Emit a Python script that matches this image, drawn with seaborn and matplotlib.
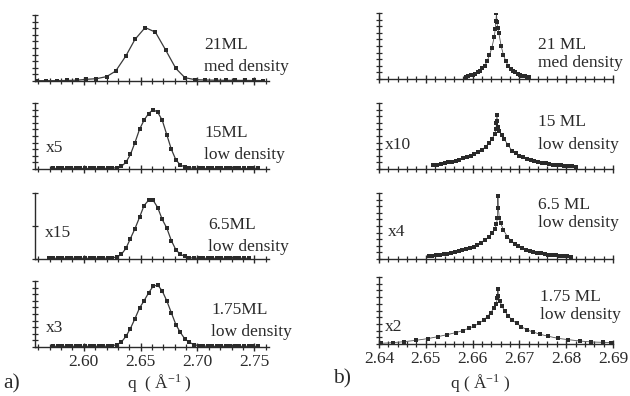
import numpy as np
import pandas as pd
import matplotlib
matplotlib.use("Agg")
import matplotlib.pyplot as plt
import seaborn as sns
from matplotlib.ticker import MultipleLocator, NullFormatter, FixedLocator

# ---------------- data (a): square markers ----------------
q_21 = [2.558, 2.567, 2.576, 2.585, 2.594, 2.602, 2.611, 2.620, 2.628, 2.637, 2.645, 2.654,
        2.663, 2.672, 2.681, 2.689, 2.698, 2.707, 2.716, 2.725, 2.733, 2.742, 2.750, 2.758]
I_21 = [0.005, 0.005, 0.005, 0.008, 0.012, 0.025, 0.035, 0.066, 0.15, 0.38, 0.63, 0.81,
        0.74, 0.47, 0.19, 0.05, 0.02, 0.015, 0.012, 0.01, 0.01, 0.008, 0.008, 0.005]

q_grid = [2.569, 2.573, 2.577, 2.581, 2.585, 2.589, 2.593, 2.597, 2.601, 2.605, 2.609, 2.613,
          2.617, 2.621, 2.625, 2.629, 2.633, 2.637, 2.641, 2.645, 2.649, 2.653, 2.657, 2.661,
          2.665, 2.669, 2.673, 2.677, 2.681, 2.685, 2.689, 2.693, 2.697, 2.701, 2.705, 2.709,
          2.713, 2.717, 2.721, 2.725, 2.729, 2.733, 2.737, 2.741, 2.745, 2.749, 2.753, 2.757]
N = None
I_15 = [N, 0.008, 0.008, 0.008, 0.008, 0.008, 0.008, 0.008, 0.008, 0.008, 0.008, 0.008,
        0.008, 0.01, 0.012, 0.02, 0.04, 0.10, 0.22, 0.40, 0.60, 0.74, 0.84, 0.90,
        0.86, 0.74, 0.52, 0.30, 0.14, 0.06, 0.03, 0.015, 0.01, 0.008, 0.008, 0.008,
        0.008, 0.008, 0.008, 0.008, 0.008, 0.008, 0.008, 0.008, 0.008, 0.008, 0.008, N]
I_65 = [0.01, 0.01, 0.01, 0.01, 0.01, 0.01, 0.01, 0.01, 0.01, 0.01, 0.01, 0.01,
        0.01, 0.012, 0.018, 0.03, 0.07, 0.16, 0.31, 0.46, 0.63, 0.81, 0.89, 0.89,
        0.78, 0.60, 0.47, 0.28, 0.14, 0.07, 0.04, 0.02, 0.012, 0.01, 0.01, 0.01,
        0.01, 0.01, 0.01, 0.01, 0.01, 0.01, 0.01, 0.01, 0.01, N, N, N]
I_175 = [N, 0.01, 0.01, 0.01, 0.01, 0.01, 0.01, 0.01, 0.01, 0.01, 0.01, 0.01,
         0.01, 0.012, 0.02, 0.035, 0.075, 0.16, 0.28, 0.43, 0.59, 0.70, 0.82, 0.92,
         0.94, 0.85, 0.70, 0.52, 0.34, 0.22, 0.12, 0.07, 0.035, 0.02, 0.014, 0.01,
         0.01, 0.01, 0.01, 0.01, 0.01, 0.01, 0.01, 0.01, 0.01, 0.01, 0.01, N]

# ---------------- data (b): dotted cusps ----------------
qb_21 = [2.6586, 2.6591, 2.6596, 2.6601, 2.6606, 2.6611, 2.6616, 2.6621, 2.6626, 2.6631, 2.6636,
         2.6641, 2.6646, 2.66485, 2.6650, 2.6651, 2.6652, 2.66535, 2.6656, 2.6661, 2.6666, 2.6671,
         2.6676, 2.6681, 2.6686, 2.6691, 2.6696, 2.6701, 2.6706, 2.6711, 2.6716, 2.6721]
Ib_21 = [0.037, 0.045, 0.055, 0.065, 0.08, 0.10, 0.12, 0.16, 0.20, 0.27, 0.36,
         0.47, 0.63, 0.76, 0.88, 1.00, 0.86, 0.78, 0.70, 0.50, 0.36, 0.27,
         0.20, 0.15, 0.12, 0.10, 0.08, 0.065, 0.05, 0.04, 0.033, 0.025]

qb_15 = [2.6516, 2.6524, 2.6532, 2.6540, 2.6548, 2.6556, 2.6564, 2.6572, 2.6580, 2.6588, 2.6596,
         2.6604, 2.6612, 2.6620, 2.6628, 2.6636, 2.6642, 2.6647, 2.6650, 2.6651, 2.6652, 2.6653,
         2.6654, 2.6657, 2.6662, 2.6668, 2.6676, 2.6684, 2.6692, 2.6700, 2.6708, 2.6716, 2.6724,
         2.6732, 2.6740, 2.6748, 2.6756, 2.6764, 2.6772, 2.6780, 2.6788, 2.6796, 2.6804, 2.6812,
         2.6820]
Ib_15 = [0.06, 0.065, 0.075, 0.085, 0.10, 0.11, 0.125, 0.14, 0.16, 0.18, 0.20,
         0.22, 0.25, 0.29, 0.34, 0.40, 0.46, 0.53, 0.60, 0.70, 0.82, 0.72,
         0.64, 0.58, 0.52, 0.45, 0.36, 0.28, 0.24, 0.20, 0.18, 0.155, 0.14,
         0.12, 0.105, 0.095, 0.085, 0.075, 0.065, 0.06, 0.055, 0.05, 0.045, 0.04,
         0.035]

qb_65 = [2.6506, 2.6514, 2.6522, 2.6530, 2.6538, 2.6546, 2.6554, 2.6562, 2.6570, 2.6578, 2.6586,
         2.6594, 2.6602, 2.6610, 2.6618, 2.6626, 2.6634, 2.6642, 2.6648, 2.6651, 2.6653, 2.6654,
         2.6655, 2.6657, 2.6660, 2.6666, 2.6674, 2.6682, 2.6690, 2.6698, 2.6706, 2.6714, 2.6722,
         2.6730, 2.6738, 2.6746, 2.6754, 2.6762, 2.6770, 2.6778, 2.6786, 2.6794, 2.6802, 2.6810]
Ib_65 = [0.045, 0.05, 0.06, 0.065, 0.075, 0.08, 0.095, 0.105, 0.115, 0.13, 0.145,
         0.165, 0.185, 0.21, 0.25, 0.29, 0.33, 0.39, 0.46, 0.53, 0.62, 0.96,
         0.77, 0.62, 0.54, 0.44, 0.34, 0.28, 0.23, 0.19, 0.16, 0.14, 0.12,
         0.105, 0.095, 0.085, 0.075, 0.065, 0.06, 0.055, 0.05, 0.045, 0.04, 0.035]

qb_175 = [2.6404, 2.6429, 2.6454, 2.6479, 2.6504, 2.6526, 2.6546, 2.6564, 2.6579, 2.6592, 2.6604,
          2.6614, 2.6624, 2.6632, 2.6639, 2.6645, 2.6650, 2.6653, 2.6654, 2.6655, 2.6658, 2.6663,
          2.6669, 2.6676, 2.6684, 2.6694, 2.6704, 2.6716, 2.6729, 2.6744, 2.6762, 2.6782, 2.6804,
          2.6829, 2.6854, 2.6879, 2.6896]
Ib_175 = [0.01, 0.02, 0.035, 0.055, 0.08, 0.11, 0.14, 0.17, 0.20, 0.235, 0.27,
          0.31, 0.36, 0.41, 0.47, 0.53, 0.60, 0.68, 0.82, 0.72, 0.64, 0.56,
          0.49, 0.42, 0.36, 0.31, 0.26, 0.21, 0.18, 0.145, 0.115, 0.085, 0.065,
          0.045, 0.03, 0.025, 0.02]

labels_a = [("21ML", "med density", ""), ("15ML", "low density", "x5"),
            ("6.5ML", "low density", "x15"), ("1.75ML", "low density", "x3")]
labels_b = [("21 ML", "med density", ""), ("15 ML", "low density", "x10"),
            ("6.5 ML", "low density", "x4"), ("1.75 ML", "low density", "x2")]
ticks_a = [2.60, 2.65, 2.70, 2.75]
ticks_b = [2.64, 2.65, 2.66, 2.67, 2.68, 2.69]

# ---------------- style ----------------
sns.set_style("ticks")
plt.rcParams['font.family'] = ['Liberation Serif', 'DejaVu Serif']
plt.rcParams['mathtext.fontset'] = 'custom'
plt.rcParams['mathtext.rm'] = 'Liberation Serif'
plt.rcParams['mathtext.default'] = 'regular'

W, H = 630, 396
fig = plt.figure(figsize=(6.3, 3.96), dpi=100)
INK = '#2a2a2a'
FS = 12.5

def add_ax(x0, x1, top, bottom):
    return fig.add_axes([x0 / W, 1 - bottom / H, (x1 - x0) / W, (bottom - top) / H])

def ftext(px, py, s, **kw):
    fig.text(px / W, 1 - py / H, s, va='center', color=INK, **kw)

def style(ax, xlim, major, minor, ytick, show_labels, ticks):
    ax.set_xlim(*xlim)
    ax.set_ylim(0, 1)
    for s in ['top', 'right']:
        ax.spines[s].set_visible(False)
    for s in ['left', 'bottom']:
        ax.spines[s].set_color(INK)
        ax.spines[s].set_linewidth(1.0)
    ax.xaxis.set_major_locator(FixedLocator(ticks))
    ax.xaxis.set_minor_locator(MultipleLocator(minor))
    ax.yaxis.set_major_locator(MultipleLocator(ytick))
    ax.yaxis.set_major_formatter(NullFormatter())
    ax.tick_params(axis='x', which='major', direction='inout', length=6, width=1.0,
                   color=INK, labelsize=FS, labelcolor=INK, pad=2)
    ax.tick_params(axis='x', which='minor', direction='inout', length=4, width=0.9, color=INK)
    ax.tick_params(axis='y', which='major', direction='inout', length=4, width=0.9, color=INK)
    ax.set_xlabel('')
    ax.set_ylabel('')
    if show_labels:
        ax.set_xticklabels([f"{t:.2f}" for t in ticks])
    else:
        ax.set_xticklabels([])

# left column (a)
rows_a = [(15, 81), (103, 169), (193, 259), (281, 347)]
series_a = [(q_21, I_21), (q_grid, I_15), (q_grid, I_65), (q_grid, I_175)]
ytick_a = [0.1, 0.1, 0.5, 0.1]
text_a = [(204, 45, 67, 46, 0), (204, 133, 155, 46, 148), (208, 225, 247, 45, 233),
          (211, 310, 332, 46, 328)]
for i, ((top, bot), (qq, ii)) in enumerate(zip(rows_a, series_a)):
    ax = add_ax(35, 269, top, bot)
    df = pd.DataFrame({'q': qq, 'I': ii}).dropna()
    sns.lineplot(data=df, x='q', y='I', ax=ax, estimator=None, sort=False,
                 color='#3a3a3a', linewidth=0.9, marker='s', markersize=3.2,
                 markeredgewidth=0, markerfacecolor='#2a2a2a')
    style(ax, (2.557, 2.763), 0.05, 0.01, ytick_a[i], i == 3, ticks_a)
    tx, y1, y2, sx, sy = text_a[i]
    l1, l2, sc = labels_a[i]
    ftext(tx, y1, l1, fontsize=FS)
    ftext(tx, y2, l2, fontsize=FS)
    if sc:
        ftext(sx, sy, sc, fontsize=FS)

# right column (b)
rows_b = [(13, 79), (103, 169), (193, 259), (277, 344)]
series_b = [(qb_21, Ib_21), (qb_15, Ib_15), (qb_65, Ib_65), (qb_175, Ib_175)]
text_b = [(538, 45, 63, 0, 0), (538, 122, 145, 385, 145), (538, 205, 223, 388, 232),
          (540, 297, 315, 385, 327)]
for i, ((top, bot), (qq, ii)) in enumerate(zip(rows_b, series_b)):
    ax = add_ax(379, 613, top, bot)
    df = pd.DataFrame({'q': qq, 'I': ii})
    sns.lineplot(data=df, x='q', y='I', ax=ax, estimator=None, sort=False,
                 color='#555555', linewidth=0.6, marker='s', markersize=2.4,
                 markeredgewidth=0, markerfacecolor='#2a2a2a')
    style(ax, (2.64, 2.69), 0.01, 0.002, 0.1, i == 3, ticks_b)
    tx, y1, y2, sx, sy = text_b[i]
    l1, l2, sc = labels_b[i]
    ftext(tx, y1, l1, fontsize=FS)
    ftext(tx, y2, l2, fontsize=FS)
    if sc:
        ftext(sx, sy, sc, fontsize=FS)

ftext(159, 383, r'q  ( Å$^{-1}$ )', fontsize=FS, ha='center')
ftext(480, 383, r'q ( Å$^{-1}$ )', fontsize=FS, ha='center')
ftext(3, 384, 'a)', fontsize=15.5)
ftext(333, 379, 'b)', fontsize=15.5)

fig.savefig('out.png', dpi=100, facecolor='white')
